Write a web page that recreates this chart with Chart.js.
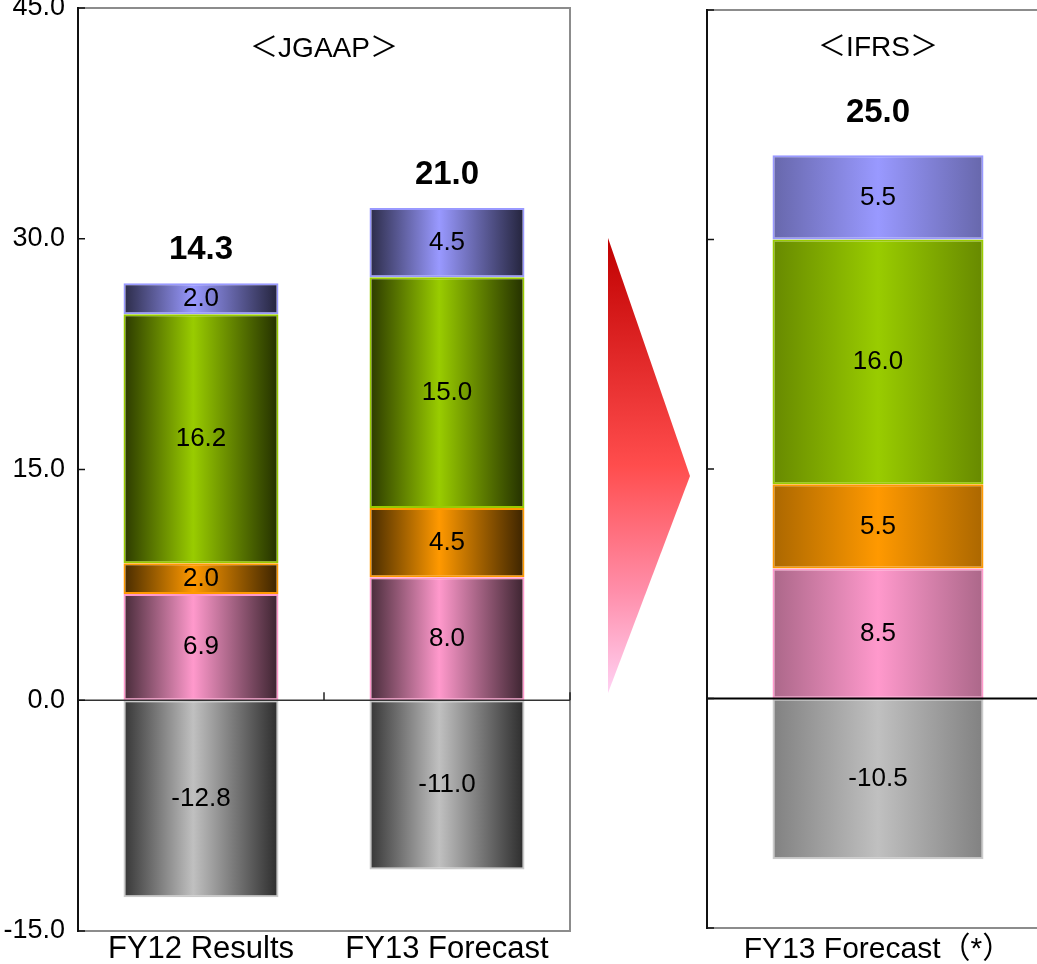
<!DOCTYPE html>
<html>
<head>
<meta charset="utf-8">
<script src="https://cdn.jsdelivr.net/npm/chart.js@4"></script>
<style>
  html, body { margin: 0; padding: 0; background: #fff; overflow: hidden; }
  body { width: 1037px; height: 964px; position: relative; }
  #jgaap { position: absolute; left: 0; top: 0; }
  #ifrs { position: absolute; left: 640px; top: 0; }
</style>
</head>
<body>
<canvas id="jgaap" width="700" height="964"></canvas>
<canvas id="ifrs" width="460" height="964"></canvas>
<script>
// ---- categories ----
const jgaapCategories = ['FY12 Results', 'FY13 Forecast'];
const ifrsCategories = ['FY13 Forecast（*）'];

// ---- JGAAP segments (stacked bottom to top, then the negative item) ----
const jgaapPink = [6.9, 8.0];
const jgaapOrange = [2.0, 4.5];
const jgaapGreen = [16.2, 15.0];
const jgaapBlue = [2.0, 4.5];
const jgaapGrey = [-12.8, -11.0];
const jgaapTotals = [14.3, 21.0];

// ---- IFRS segments ----
const ifrsPink = [8.5];
const ifrsOrange = [5.5];
const ifrsGreen = [16.0];
const ifrsBlue = [5.5];
const ifrsGrey = [-10.5];
const ifrsTotals = [25.0];

// ---- value axis ----
const yTickValues = [-15, 0, 15, 30, 45];
const panelTitles = ['＜JGAAP＞', '＜IFRS＞'];

const FONT = '"Liberation Sans", Arial, "Noto Sans CJK JP", sans-serif';
const COLORS = {
  pink: '#ff99cc',
  orange: '#ff9900',
  green: '#99cc00',
  blue: '#9999ff',
  grey: '#c0c0c0'
};

function shade(hex, f) {
  const n = parseInt(hex.slice(1), 16);
  const r = Math.round(((n >> 16) & 255) * f);
  const g = Math.round(((n >> 8) & 255) * f);
  const b = Math.round((n & 255) * f);
  return `rgb(${r},${g},${b})`;
}

// Horizontal "cylinder" shading: dark edges, bright band near the middle.
function cylinderFill(color, edgeL, edgeR, peak, barPct) {
  return (c) => {
    const chart = c.chart;
    if (!chart.chartArea || c.type !== 'data') return color;
    const xs = chart.scales.x;
    const n = chart.data.labels.length;
    const cx = xs.getPixelForValue(c.dataIndex);
    const half = (xs.width / n) * barPct / 2;
    const g = chart.ctx.createLinearGradient(cx - half, 0, cx + half, 0);
    g.addColorStop(0, shade(color, edgeL));
    g.addColorStop(peak, color);
    g.addColorStop(1, shade(color, edgeR));
    return g;
  };
}

function makeDatasets(series, look) {
  const keys = ['pink', 'orange', 'green', 'blue', 'grey'];
  return keys.map((k, i) => ({
    label: k,
    data: series[i],
    backgroundColor: cylinderFill(COLORS[k], look.edgeL, look.edgeR, look.peak, look.barPct),
    borderColor: k === 'grey' ? '#cacaca' : COLORS[k],
    borderWidth: 2,
    borderSkipped: false,
    barPercentage: look.barPct,
    categoryPercentage: 1
  }));
}

function strokeLine(ctx, x1, y1, x2, y2) {
  ctx.beginPath();
  ctx.moveTo(x1, y1);
  ctx.lineTo(x2, y2);
  ctx.stroke();
}

// Frame, axis lines, value labels, totals, panel title and the transition arrow.
const panelPlugin = {
  id: 'panel',
  beforeDatasetsDraw(chart, args, o) {
    const { ctx, chartArea: a } = chart;
    ctx.save();
    ctx.lineWidth = 2;
    ctx.strokeStyle = o.frameColor;
    ctx.beginPath();
    ctx.moveTo(a.left, a.top);
    ctx.lineTo(a.right, a.top);
    ctx.lineTo(a.right, a.bottom);
    ctx.lineTo(a.left, a.bottom);
    ctx.stroke();
    ctx.restore();
  },
  afterDatasetsDraw(chart, args, o) {
    const { ctx, chartArea: a, scales: { x, y } } = chart;
    const n = chart.data.labels.length;
    const catW = x.width / n;
    ctx.save();

    // zero line
    const y0 = y.getPixelForValue(0);
    ctx.strokeStyle = o.zeroColor;
    ctx.lineWidth = o.zeroWidth;
    strokeLine(ctx, a.left, y0, a.right, y0);

    // category separator ticks standing on the zero line
    if (o.categoryTicks) {
      ctx.lineWidth = 1.5;
      ctx.strokeStyle = '#222';
      for (let i = 0; i < n; i++) {
        const px = x.getPixelForValue(i) + catW / 2;
        strokeLine(ctx, px, y0, px, y0 - 8);
      }
    }

    // left axis line and inward value ticks
    ctx.strokeStyle = o.axisColor;
    ctx.lineWidth = 2;
    strokeLine(ctx, a.left, a.top - 1, a.left, a.bottom + 1);
    ctx.lineWidth = 1.5;
    yTickValues.forEach(v => {
      const py = y.getPixelForValue(v);
      strokeLine(ctx, a.left, py, a.left + 7, py);
    });

    // segment values
    ctx.fillStyle = '#000';
    ctx.textAlign = 'center';
    ctx.textBaseline = 'middle';
    ctx.font = `26px ${FONT}`;
    chart.data.datasets.forEach((ds, di) => {
      chart.getDatasetMeta(di).data.forEach((el, i) => {
        ctx.fillText(ds.data[i].toFixed(1), el.x, (el.y + el.base) / 2);
      });
    });

    // totals above each stack
    ctx.font = `bold 33px ${FONT}`;
    o.totals.forEach((t, i) => {
      let top = Infinity;
      chart.data.datasets.forEach((ds, di) => {
        if (ds.data[i] > 0) top = Math.min(top, chart.getDatasetMeta(di).data[i].y);
      });
      ctx.fillText(t.toFixed(1), x.getPixelForValue(i), top - o.totalGap);
    });

    // panel title
    ctx.font = `28px ${FONT}`;
    const tx = (x.getPixelForValue(0) + x.getPixelForValue(n - 1)) / 2;
    ctx.fillText(o.title, tx, o.titleY);

    ctx.restore();
  },
  afterDraw(chart, args, o) {
    if (!o.arrow) return;
    const { ctx, chartArea: a } = chart;
    const left = a.right + 38, tip = a.right + 120;
    const top = 238, bottom = 693, mid = 476;
    const g = ctx.createLinearGradient(0, top, 0, bottom);
    g.addColorStop(0, '#c00000');
    g.addColorStop(0.5, '#ff4d4d');
    g.addColorStop(0.78, '#ff8fab');
    g.addColorStop(1, '#ffd2f4');
    ctx.save();
    ctx.fillStyle = g;
    ctx.beginPath();
    ctx.moveTo(left, top);
    ctx.lineTo(tip, mid);
    ctx.lineTo(left, bottom);
    ctx.closePath();
    ctx.fill();
    ctx.restore();
  }
};

function makeChart(id, labels, series, totals, cfg) {
  return new Chart(document.getElementById(id), {
    type: 'bar',
    data: { labels, datasets: makeDatasets(series, cfg.look) },
    options: {
      responsive: false,
      animation: false,
      layout: { padding: cfg.padding },
      plugins: {
        legend: { display: false },
        tooltip: { enabled: false },
        panel: {
          title: cfg.title,
          titleY: cfg.titleY,
          totals,
          totalGap: cfg.totalGap,
          frameColor: '#8c8c8c',
          axisColor: '#111',
          zeroColor: cfg.zeroColor,
          zeroWidth: cfg.zeroWidth,
          categoryTicks: cfg.categoryTicks,
          arrow: cfg.arrow
        }
      },
      scales: {
        x: {
          stacked: true,
          offset: true,
          grid: { display: false, drawTicks: false },
          border: { display: false },
          ticks: {
            padding: cfg.xPad,
            color: '#000',
            autoSkip: false,
            maxRotation: 0,
            font: { family: FONT, size: cfg.xFont }
          },
          afterFit(s) { s.height = cfg.xHeight; s.paddingLeft = 0; s.paddingRight = 0; }
        },
        y: {
          display: cfg.showY,
          stacked: true,
          min: -15,
          max: 45,
          grid: { display: false, drawTicks: false },
          border: { display: false },
          afterBuildTicks(s) { s.ticks = yTickValues.map(v => ({ value: v })); },
          ticks: {
            padding: 13,
            color: '#000',
            font: { family: FONT, size: 27 },
            callback: v => Number(v).toFixed(1)
          },
          afterFit(s) { s.width = cfg.showY ? 78 : 0; s.paddingTop = 0; s.paddingBottom = 0; }
        }
      }
    },
    plugins: [panelPlugin]
  });
}

makeChart('jgaap', jgaapCategories,
  [jgaapPink, jgaapOrange, jgaapGreen, jgaapBlue, jgaapGrey], jgaapTotals, {
    look: { edgeL: 0.28, edgeR: 0.23, peak: 0.45, barPct: 0.63 },
    padding: { left: 0, right: 130, top: 8, bottom: 0 },
    title: panelTitles[0], titleY: 49, totalGap: 33,
    zeroColor: '#333', zeroWidth: 1.5, categoryTicks: true, arrow: true,
    xPad: 0, xFont: 31, xHeight: 33, showY: true
  });

makeChart('ifrs', ifrsCategories,
  [ifrsPink, ifrsOrange, ifrsGreen, ifrsBlue, ifrsGrey], ifrsTotals, {
    look: { edgeL: 0.67, edgeR: 0.67, peak: 0.5, barPct: 0.617 },
    padding: { left: 67, right: 51, top: 10, bottom: 0 },
    title: panelTitles[1], titleY: 48, totalGap: 42,
    zeroColor: '#000', zeroWidth: 2, categoryTicks: false, arrow: false,
    xPad: 4, xFont: 30, xHeight: 36, showY: false
  });
</script>
</body>
</html>
